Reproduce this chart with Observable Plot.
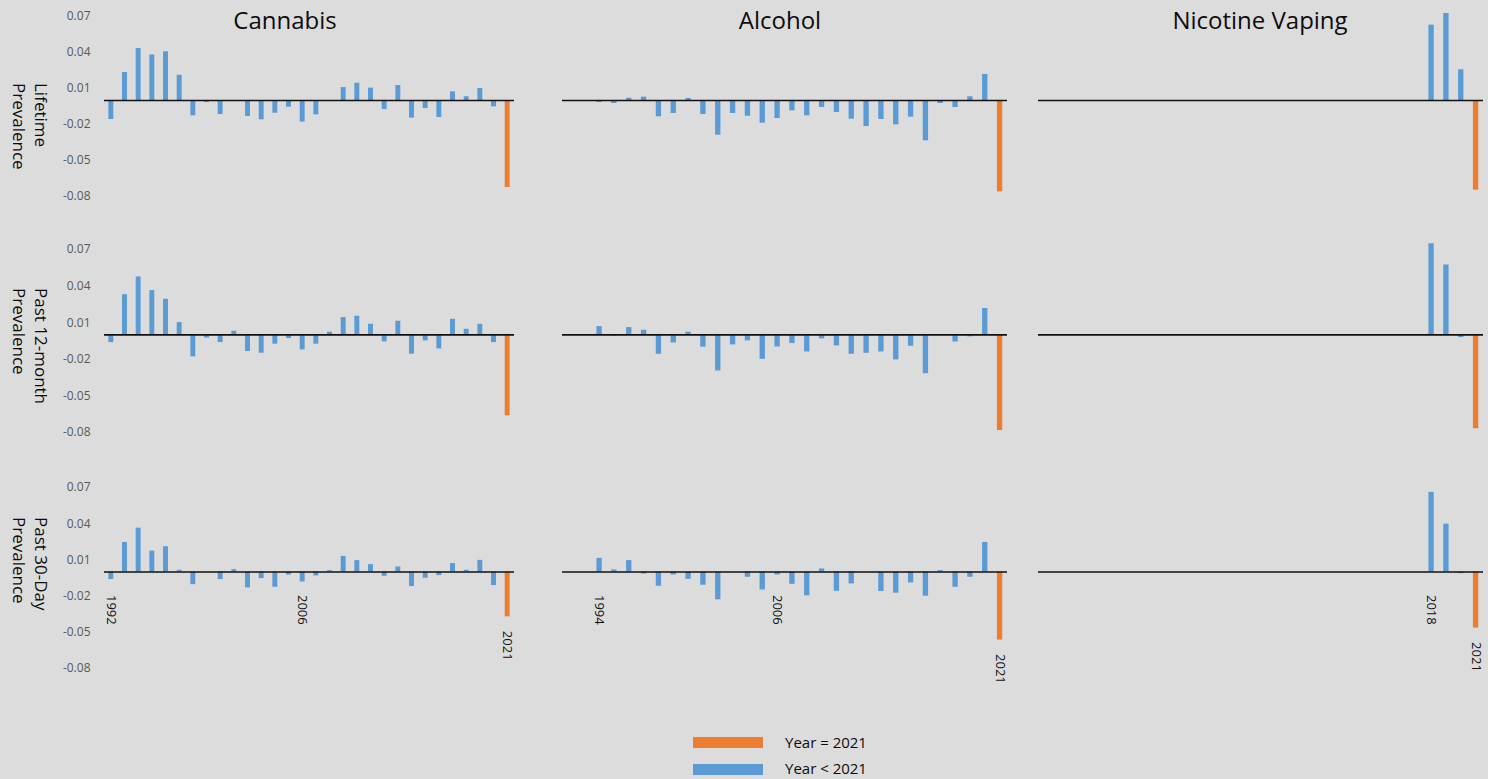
<!DOCTYPE html>
<html>
<head>
<meta charset="utf-8">
<script src="https://cdn.jsdelivr.net/npm/d3@7"></script>
<script src="https://cdn.jsdelivr.net/npm/@observablehq/plot@0.6"></script>
<style>
  html, body { margin: 0; padding: 0; background: #dcdcdc; }
  #chart { position: relative; width: 1488px; height: 779px; overflow: hidden;
           font-family: "Open Sans", sans-serif; background: #dcdcdc; }
  #chart .panel { position: absolute; }
  #chart svg { overflow: visible; }
</style>
</head>
<body>
<div id="chart"></div>
<script>
// ---------------- data ----------------
const allYears = [1992,1993,1994,1995,1996,1997,1998,1999,2000,2001,2002,2003,2004,2005,2006,
                  2007,2008,2009,2010,2011,2012,2013,2014,2015,2016,2017,2018,2019,2020,2021];
const cannabisYears = allYears;
const alcoholYears = [1994,1995,1996,1997,1998,1999,2000,2001,2002,2003,2004,2005,2006,
                      2007,2008,2009,2010,2011,2012,2013,2014,2015,2016,2017,2018,2019,2020,2021];
const vapingYears = [2018, 2019, 2020, 2021];

const cannabisLifetime = [-0.0158, 0.0233, 0.0433, 0.0380, 0.0406, 0.0210, -0.0128, -0.0017, -0.0117, 0.0000,
  -0.0133, -0.0161, -0.0106, -0.0056, -0.0180, -0.0120, 0.0000, 0.0108, 0.0144, 0.0103,
  -0.0075, 0.0125, -0.0147, -0.0067, -0.0142, 0.0072, 0.0031, 0.0100, -0.0053, -0.0725];
const cannabis12Month = [-0.0063, 0.0330, 0.0475, 0.0363, 0.0292, 0.0101, -0.0180, -0.0025, -0.0063, 0.0030,
  -0.0136, -0.0150, -0.0076, -0.0030, -0.0123, -0.0076, 0.0022, 0.0142, 0.0153, 0.0087,
  -0.0057, 0.0112, -0.0158, -0.0049, -0.0115, 0.0128, 0.0046, 0.0087, -0.0063, -0.0663];
const cannabis30Day = [-0.0063, 0.0245, 0.0363, 0.0173, 0.0209, 0.0014, -0.0105, 0.0000, -0.0063, 0.0019,
  -0.0132, -0.0055, -0.0127, -0.0025, -0.0083, -0.0033, 0.0011, 0.0129, 0.0094, 0.0061,
  -0.0036, 0.0041, -0.0121, -0.0052, -0.0030, 0.0069, 0.0014, 0.0096, -0.0113, -0.0372];

const alcoholLifetime = [-0.0017, -0.0025, 0.0019, 0.0028, -0.0136, -0.0108, 0.0017, -0.0117, -0.0289, -0.0108,
  -0.0131, -0.0189, -0.0150, -0.0086, -0.0128, -0.0058, -0.0100, -0.0156, -0.0217, -0.0158,
  -0.0203, -0.0139, -0.0336, -0.0025, -0.0058, 0.0031, 0.0217, -0.0761];
const alcohol12Month = [0.0068, -0.0011, 0.0060, 0.0038, -0.0159, -0.0066, 0.0022, -0.0101, -0.0296, -0.0082,
  -0.0049, -0.0200, -0.0099, -0.0071, -0.0140, -0.0033, -0.0090, -0.0159, -0.0151, -0.0140,
  -0.0205, -0.0093, -0.0318, 0.0000, -0.0058, -0.0016, 0.0216, -0.0784];
const alcohol30Day = [0.0113, 0.0017, 0.0094, -0.0017, -0.0118, -0.0025, -0.0061, -0.0110, -0.0231, 0.0000,
  -0.0044, -0.0149, -0.0025, -0.0102, -0.0198, 0.0025, -0.0160, -0.0099, 0.0000, -0.0162,
  -0.0176, -0.0091, -0.0201, 0.0011, -0.0127, -0.0044, 0.0245, -0.0564];

const vapingLifetime = [0.0628, 0.0725, 0.0256, -0.0747];
const vaping12Month = [0.0747, 0.0573, -0.0022, -0.0769];
const vaping30Day = [0.0660, 0.0396, -0.0014, -0.0465];

const substances = ["Cannabis", "Alcohol", "Nicotine Vaping"];
const measures = [["Lifetime", "Prevalence"], ["Past 12-month", "Prevalence"], ["Past 30-Day", "Prevalence"]];
const yTicks = [0.07, 0.04, 0.01, -0.02, -0.05, -0.08];
const cannabisYearLabels = [1992, 2006, 2021];
const alcoholYearLabels = [1994, 2006, 2021];
const vapingYearLabels = [2018, 2021];
const legendLabels = ["Year = 2021", "Year < 2021"];
const highlightYear = 2021;

// ---------------- styling / layout ----------------
const ORANGE = "#ED7D31";
const BLUE = "#5B9BD5";
const columns = [
  {name: substances[0], years: cannabisYears, series: [cannabisLifetime, cannabis12Month, cannabis30Day],
   labels: cannabisYearLabels, frame: [104, 514], titleX: 285, showY: true},
  {name: substances[1], years: alcoholYears, series: [alcoholLifetime, alcohol12Month, alcohol30Day],
   labels: alcoholYearLabels, frame: [562, 1007], titleX: 780, showY: false},
  {name: substances[2], years: vapingYears, series: [vapingLifetime, vaping12Month, vaping30Day],
   labels: vapingYearLabels, frame: [1038, 1483], titleX: 1260, showY: false}
];
const rows = [
  {top: 15.7, bottom: 195.7, labelTop: 83},
  {top: 249, bottom: 432, labelTop: 288},
  {top: 487, bottom: 668, labelTop: 517}
];

const chart = document.getElementById("chart");

columns.forEach((col) => {
  rows.forEach((row, ri) => {
    const values = col.series[ri];
    const data = col.years.map((year, i) => ({year, value: values[i]}));
    const isBottom = ri === rows.length - 1;
    const marginLeft = col.showY ? col.frame[0] : 6;
    const marginRight = 5;
    const marginTop = 14;
    const marginBottom = isBottom ? 40 : 10;
    const width = marginLeft + (col.frame[1] - col.frame[0]) + marginRight;
    const height = marginTop + (row.bottom - row.top) + marginBottom;

    const marks = [
      Plot.barY(data, {
        x: "year", y: "value",
        fill: d => d.year === highlightYear ? legendLabels[0] : legendLabels[1]
      }),
      Plot.ruleY([0], {stroke: "#111", strokeWidth: 1.6})
    ];
    if (isBottom) {
      const labelData = data.filter(d => col.labels.includes(d.year));
      marks.push(Plot.text(labelData.filter(d => d.year !== highlightYear), {
        x: "year", y: () => 0, text: d => String(d.year),
        rotate: 90, textAnchor: "start", dy: 23, fill: "#111", fontSize: 13
      }));
      marks.push(Plot.text(labelData.filter(d => d.year === highlightYear), {
        x: "year", y: "value", text: d => String(d.year),
        rotate: 90, textAnchor: "start", dy: 14, fill: "#111", fontSize: 13
      }));
    }

    const p = Plot.plot({
      width, height, marginLeft, marginRight, marginTop, marginBottom,
      style: {background: "transparent", overflow: "visible", fontFamily: "Open Sans", fontSize: "12px", color: "#595959"},
      x: {type: "band", domain: allYears, paddingInner: 0.64, paddingOuter: 0.32, round: false, axis: null},
      y: {domain: [-0.08, 0.07], axis: col.showY ? "left" : null, ticks: yTicks,
          tickSize: 0, tickPadding: 14, tickFormat: d => d.toFixed(2), label: null},
      color: {domain: legendLabels, range: [ORANGE, BLUE]},
      marks
    });
    const wrap = document.createElement("div");
    wrap.className = "panel";
    wrap.style.left = (col.frame[0] - marginLeft) + "px";
    wrap.style.top = (row.top - marginTop) + "px";
    wrap.appendChild(p);
    chart.appendChild(wrap);
  });
});

// ---------------- titles, row labels ----------------
const overlay = d3.select(chart).append("svg")
  .attr("width", 1488).attr("height", 779)
  .style("position", "absolute").style("left", 0).style("top", 0)
  .style("pointer-events", "none")
  .style("font-family", "'Open Sans', sans-serif");

overlay.selectAll("text.title").data(columns).join("text")
  .attr("class", "title")
  .attr("x", d => d.titleX).attr("y", 28.5)
  .attr("text-anchor", "middle")
  .attr("font-size", 24)
  .attr("fill", "#0d0d0d")
  .text(d => d.name);

rows.forEach((row, ri) => {
  const lines = measures[ri];
  lines.forEach((line, li) => {
    overlay.append("text")
      .attr("transform", `translate(${35 - li * 21.7},${row.labelTop}) rotate(90)`)
      .attr("text-anchor", "start")
      .attr("font-size", 17)
      .attr("fill", "#0d0d0d")
      .text(line);
  });
});

// ---------------- legend ----------------
const legendColors = [ORANGE, BLUE];
legendLabels.forEach((lab, i) => {
  const sw = document.createElement("div");
  sw.style.cssText = `position:absolute;left:693px;top:${737 + i * 27}px;width:70px;height:11px;background:${legendColors[i]};`;
  chart.appendChild(sw);
});
overlay.selectAll("text.legend").data(legendLabels).join("text")
  .attr("class", "legend")
  .attr("x", 785).attr("y", (d, i) => 748 + i * 25.5)
  .attr("font-size", 15)
  .attr("fill", "#0d0d0d")
  .text(d => d);
</script>
</body>
</html>
